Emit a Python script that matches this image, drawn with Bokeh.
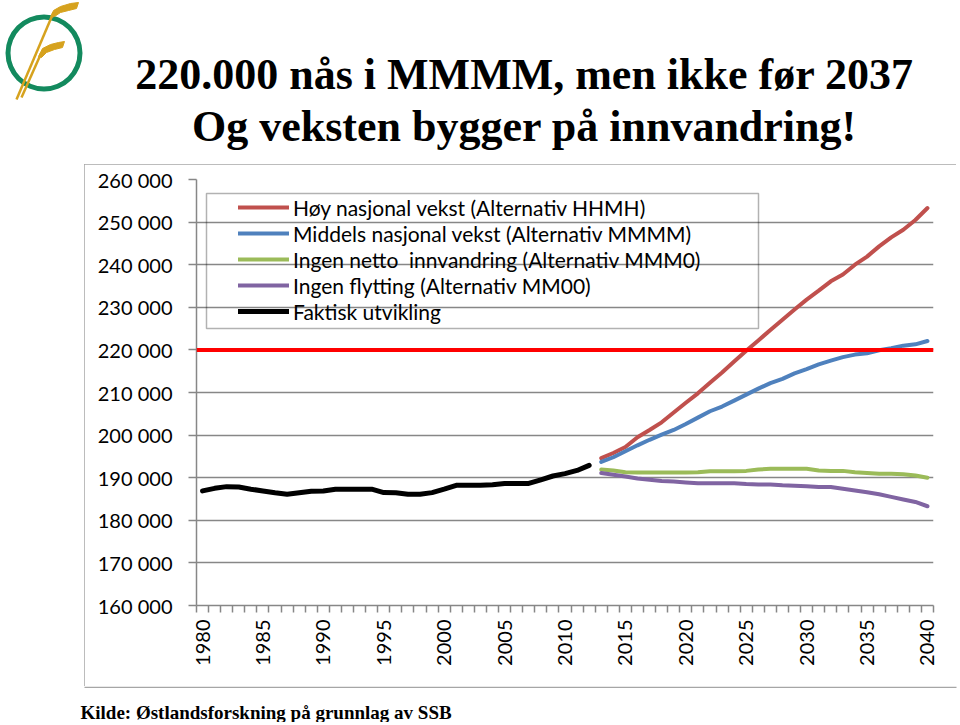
import math
from bokeh.plotting import figure
from bokeh.layouts import column
from bokeh.models import (Range1d, FixedTicker, BoxAnnotation, Legend,
                          LegendItem, Span)
from bokeh.embed import file_html
from bokeh.resources import INLINE
from bokeh.core.properties import value

# ---------------- data ----------------
years_hist = list(range(1980, 2013))
faktisk = [186900, 187500, 187900, 187800, 187300, 186900, 186450, 186100,
           186450, 186800, 186900, 187300, 187300, 187300, 187300, 186500,
           186450, 186100, 186100, 186500, 187300, 188200, 188250, 188250,
           188350, 188650, 188650, 188650, 189500, 190400, 190950, 191700,
           192900]

years_proj = list(range(2013, 2041))
hhmh = [194600, 195800, 197200, 199500, 201200, 203000, 205300, 207600,
        209800, 212300, 214700, 217300, 219800, 222200, 224700, 227100,
        229500, 231800, 233900, 236100, 237700, 240000, 241900, 244300,
        246400, 248200, 250500, 253300]
mmmm = [193700, 194800, 196200, 197600, 198900, 200100, 201200, 202600,
        204100, 205600, 206700, 208100, 209500, 210900, 212200, 213200,
        214500, 215500, 216600, 217500, 218300, 218900, 219200, 219900,
        220400, 221000, 221300, 222100]
mmm0 = [191900, 191700, 191300, 191200, 191200, 191200, 191200, 191200,
        191300, 191500, 191500, 191500, 191600, 191900, 192100, 192100,
        192100, 192100, 191700, 191600, 191600, 191300, 191100, 190900,
        190900, 190800, 190500, 190000]
mm00 = [191100, 190700, 190300, 189800, 189500, 189200, 189100, 188900,
        188700, 188700, 188700, 188700, 188500, 188400, 188400, 188200,
        188100, 188000, 187800, 187800, 187400, 187000, 186600, 186100,
        185500, 184900, 184300, 183300]

target = 220000

series_names = ["Høy nasjonal vekst (Alternativ HHMH)",
                "Middels nasjonal vekst (Alternativ MMMM)",
                "Ingen netto  innvandring (Alternativ MMM0)",
                "Ingen flytting (Alternativ MM00)",
                "Faktisk utvikling"]

y_ticks = [160000, 170000, 180000, 190000, 200000, 210000, 220000,
           230000, 240000, 250000, 260000]
y_tick_labels = ["160 000", "170 000", "180 000", "190 000", "200 000",
                 "210 000", "220 000", "230 000", "240 000", "250 000",
                 "260 000"]
x_label_years = [1980, 1985, 1990, 1995, 2000, 2005, 2010, 2015, 2020,
                 2025, 2030, 2035, 2040]

title_lines = ["220.000 nås i MMMM, men ikke før 2037",
               "Og veksten bygger på innvandring!"]
source = "Kilde: Østlandsforskning på grunnlag av SSB"

GRAY = "#878787"
FRAME_GRAY = "#A6A6A6"
GREEN = "#138A5E"
GOLD = "#D6A21E"


def no_align(f):
    try:
        f.frame_align = False
    except AttributeError:
        pass


def blank(width, height):
    # pixel-scaled helper canvas (y grows downward) for title/logo/source
    f = figure(width=width, height=height, x_range=Range1d(0, width),
               y_range=Range1d(height, 0), output_backend="svg",
               toolbar_location=None, title=None,
               x_axis_type=None, y_axis_type=None, min_border=0)
    f.outline_line_color = None
    f.xgrid.visible = False
    f.ygrid.visible = False
    f.background_fill_color = "white"
    f.border_fill_color = "white"
    no_align(f)
    return f


# ---------------- header: logo + title ----------------
head = blank(960, 164)
head.annulus(x=[43.5], y=[52.5], inner_radius=33.5, outer_radius=38.5,
             fill_color=GREEN, line_color=None)
head.patches(xs=[[50, 53, 60, 70, 78, 76, 68, 60, 54],
                 [38, 42, 50, 58, 64, 62, 54, 46, 41]],
             ys=[[17, 10, 6, 3, 2, 8, 10, 12, 16],
                 [56, 48, 44, 42, 41, 47, 49, 52, 57]],
             fill_color=GOLD, line_color=GOLD, line_width=1)
head.segment(x0=[53, 41], y0=[12, 52], x1=[16, 21], y1=[99, 97],
             line_color=GOLD, line_width=2.5)
head.text(x=[524, 524], y=[74, 126], text=title_lines,
          text_align="center", text_baseline="alphabetic",
          text_font=value("Liberation Serif"), text_font_style="bold",
          text_font_size="44px", text_color="black")

# ---------------- main chart ----------------
p = figure(width=872, height=522, x_range=Range1d(1979.5, 2040.5),
           y_range=Range1d(160000, 260000), output_backend="svg",
           toolbar_location=None, title=None,
           min_border_left=112, min_border_right=23,
           min_border_top=15, min_border_bottom=81)
no_align(p)
p.margin = (0, 0, 0, 84)
p.styles = {"outline": "2px solid " + FRAME_GRAY, "outline-offset": "-2px"}
p.outline_line_color = None
p.background_fill_color = "white"
p.border_fill_color = "white"

p.yaxis.ticker = FixedTicker(ticks=y_ticks)
p.yaxis.major_label_overrides = {t: l for t, l in zip(y_ticks, y_tick_labels)}
p.yaxis.axis_line_color = GRAY
p.yaxis.axis_line_width = 1.5
p.yaxis.major_tick_line_color = GRAY
p.yaxis.major_tick_line_width = 1.5
p.yaxis.major_tick_out = 8
p.yaxis.major_tick_in = 0
p.yaxis.minor_tick_line_color = None
p.yaxis.major_label_standoff = 16
p.yaxis.major_label_text_font = "Lato"
p.yaxis.major_label_text_font_size = "20px"
p.yaxis.major_label_text_color = "black"

p.xaxis.ticker = FixedTicker(ticks=x_label_years,
                             minor_ticks=[y - 0.5 for y in range(1980, 2042)])
p.xaxis.axis_line_color = GRAY
p.xaxis.axis_line_width = 1.5
p.xaxis.major_tick_line_color = None
p.xaxis.major_tick_out = 7
p.xaxis.major_tick_in = 0
p.xaxis.minor_tick_line_color = GRAY
p.xaxis.minor_tick_line_width = 1.5
p.xaxis.minor_tick_out = 7
p.xaxis.minor_tick_in = 0
p.xaxis.major_label_orientation = math.pi / 2
p.xaxis.major_label_standoff = 7
p.xaxis.major_label_text_font = "Lato"
p.xaxis.major_label_text_font_size = "20px"
p.xaxis.major_label_text_color = "black"

p.xgrid.visible = False
p.ygrid.ticker = FixedTicker(ticks=y_ticks)
p.ygrid.grid_line_color = GRAY
p.ygrid.grid_line_width = 1.5

p.add_layout(Span(location=target, dimension="width", line_color="#FF0000",
                  line_width=4))

r_h = p.line(years_proj, hhmh, line_color="#C0504D", line_width=4,
             line_join="round", line_cap="round")
r_m = p.line(years_proj, mmmm, line_color="#4F81BD", line_width=4,
             line_join="round", line_cap="round")
r_0 = p.line(years_proj, mmm0, line_color="#9BBB59", line_width=4,
             line_join="round", line_cap="round")
r_00 = p.line(years_proj, mm00, line_color="#8064A2", line_width=4,
              line_join="round", line_cap="round")
r_f = p.line(years_hist, faktisk, line_color="black", line_width=5,
             line_join="round", line_cap="round")

legend = Legend(items=[LegendItem(label=n, renderers=[r])
                       for n, r in zip(series_names, [r_h, r_m, r_0, r_00, r_f])],
                location=(42, 281), border_line_color=None,
                background_fill_alpha=0, padding=0, spacing=0, margin=0,
                glyph_width=51, glyph_height=26, label_height=26,
                label_standoff=4, label_text_font="Lato",
                label_text_font_size="21px", label_text_color="black")
p.add_layout(legend)

p.add_layout(BoxAnnotation(left=122, right=674, top=29, bottom=164,
                           left_units="canvas", right_units="canvas",
                           top_units="canvas", bottom_units="canvas",
                           fill_alpha=0, line_color="black", line_width=1.5))

# ---------------- footer: source ----------------
foot = blank(960, 36)
foot.segment(x0=[84], y0=[0.8], x1=[956], y1=[0.8], line_color=FRAME_GRAY,
             line_width=1.6)
foot.text(x=[80], y=[26], text=[source], text_align="left",
          text_baseline="alphabetic", text_font=value("Liberation Serif"),
          text_font_style="bold", text_font_size="19px", text_color="black")

layout = column(head, p, foot, spacing=0)
open("out.html", "w").write(file_html(layout, INLINE))
